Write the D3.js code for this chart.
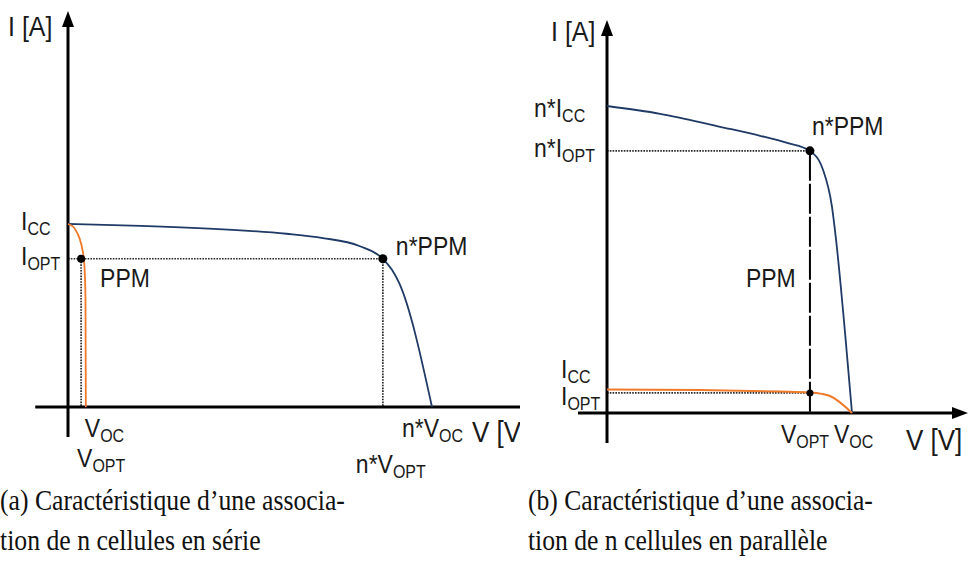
<!DOCTYPE html>
<html><head><meta charset="utf-8">
<script src="https://cdn.jsdelivr.net/npm/d3@7"></script>
<style>body{margin:0;background:#fff}svg{display:block}</style></head>
<body><svg id="c" width="968" height="571"></svg>
<script>
// ---------- Panel (a): n cells in series ----------
const serieV_n = [0, 2, 4, 6, 7, 8, 8.65, 8.9, 9.1, 10];
const serieI_n = [3.0, 2.97, 2.92, 2.84, 2.77, 2.64, 2.43, 2.25, 2.03, 0];
const serieV_1 = [0, 0.11, 0.22, 0.33, 0.41, 0.45, 0.48, 0.49];
const serieI_1 = [3.0, 2.97, 2.89, 2.74, 2.54, 2.33, 1.75, 0];
const serieIcc = 3.0, serieIopt = 2.43, serieVopt = 0.36, serieVoc = 0.49, serieNVopt = 8.65, serieNVoc = 10;

// ---------- Panel (b): n cells in parallel ----------
const paraV_n = [0, 0.13, 0.277, 0.375, 0.441, 0.497, 0.529, 0.551, 0.561, 0.583, 0.6];
const paraI_n = [13.0, 12.67, 12.12, 11.74, 11.44, 11.10, 10.30, 8.73, 7.33, 3.39, 0];
const paraV_1 = [0, 0.228, 0.424, 0.497, 0.526, 0.546, 0.6];
const paraI_1 = [1.0, 0.975, 0.91, 0.87, 0.81, 0.72, 0];
const paraIcc = 1.0, paraIopt = 0.85, paraNIcc = 13, paraNIopt = 11.1, paraVopt = 0.497, paraVoc = 0.6;

// captions
const captionA = ["(a) Caractéristique d\u2019une associa-", "tion de n cellules en série"];
const captionB = ["(b) Caractéristique d\u2019une associa-", "tion de n cellules en parallèle"];

const svg = d3.select("#c");
const BLUE = "#1f3a66", ORANGE = "#ee7a2a", INK = "#1a1a1a";
const FONT = "Liberation Sans, Arial, sans-serif";
const SY = 1.12;

function label(g, x, y, parts, size) {
  size = size || 23;
  const t = g.append("text").attr("transform", `translate(${x},${y}) scale(1,${SY})`)
    .attr("font-family", FONT).attr("font-size", size).attr("fill", INK);
  parts.forEach(p => {
    if (typeof p === "string") t.append("tspan").text(p);
    else t.append("tspan").attr("font-size", p.s).attr("dy", p.dy).text(p.t);
  });
  return t;
}
const sub = (t) => ({t, s: 16, dy: 4.5});

function arrowUp(g, x, y) {
  g.append("path").attr("d", `M${x},${y} L${x-6},${y+16} L${x+6},${y+16} Z`).attr("fill", "#000");
}
function arrowRight(g, x, y) {
  g.append("path").attr("d", `M${x},${y} L${x-16},${y-6} L${x-16},${y+6} Z`).attr("fill", "#000");
}
const DOTC = "#2a2a2a", DOTW = 1.7, DOTD = "1.6,1.2";

// ======== Panel A ========
{
  svg.append("clipPath").attr("id", "clipA").append("rect").attr("x", 0).attr("y", 0).attr("width", 520).attr("height", 485);
  const g = svg.append("g").attr("clip-path", "url(#clipA)");
  const x = d3.scaleLinear().domain([0, 10]).range([68, 432]);
  const y = d3.scaleLinear().domain([0, 3]).range([407, 224]);

  const dot = (x1, y1, x2, y2) => g.append("line").attr("x1", x1).attr("y1", y1).attr("x2", x2).attr("y2", y2)
    .attr("stroke", DOTC).attr("stroke-width", DOTW).attr("stroke-dasharray", DOTD);
  dot(x(0), y(serieIopt), x(serieNVopt), y(serieIopt));
  dot(x(serieNVopt), y(serieIopt), x(serieNVopt), y(0));
  dot(x(serieVopt), y(serieIopt), x(serieVopt), y(0));

  g.append("line").attr("x1", x(-0.9)).attr("x2", 530).attr("y1", y(0)).attr("y2", y(0)).attr("stroke", "#000").attr("stroke-width", 3);
  g.append("line").attr("x1", x(0)).attr("x2", x(0)).attr("y1", y(-0.49)).attr("y2", 22).attr("stroke", "#000").attr("stroke-width", 3);
  arrowUp(g, x(0), 11);

  const lineN = d3.line().x((d, i) => x(serieV_n[i])).y(d => y(d)).curve(d3.curveMonotoneX);
  g.append("path").attr("d", lineN(serieI_n)).attr("fill", "none").attr("stroke", BLUE).attr("stroke-width", 1.8);
  const line1 = d3.line().x((d, i) => x(serieV_1[i])).y(d => y(d)).curve(d3.curveMonotoneY);
  g.append("path").attr("d", line1(serieI_1)).attr("fill", "none").attr("stroke", ORANGE).attr("stroke-width", 1.8);

  g.append("circle").attr("cx", x(serieNVopt)).attr("cy", y(serieIopt)).attr("r", 4.5).attr("fill", "#000");
  g.append("circle").attr("cx", x(serieVopt)).attr("cy", y(serieIopt)).attr("r", 4).attr("fill", "#000");

  label(g, 8, 36, ["I [A]"], 25);
  label(g, 21, y(serieIcc) + 6, ["I", sub("CC")]);
  label(g, 21, y(serieIopt) + 6, ["I", sub("OPT")]);
  label(g, x(serieVopt) + 19, y(serieIopt) + 28, ["PPM"]);
  label(g, x(serieNVopt) + 13, y(serieIopt) - 4, ["n*PPM"]);
  label(g, x(serieVoc) - 1, y(0) + 30, ["V", sub("OC")]);
  label(g, x(serieVopt) - 4, y(0) + 60, ["V", sub("OPT")]);
  label(g, x(serieNVoc) - 30, y(0) + 30, ["n*V", sub("OC")]);
  label(g, 472, y(0) + 35, ["V [V]"], 26);
  label(g, x(serieNVopt) - 27, y(0) + 66, ["n*V", sub("OPT")]);
}

// ======== Panel B ========
{
  const g = svg.append("g");
  const x = d3.scaleLinear().domain([0, 0.6]).range([607, 852]);
  const y = d3.scaleLinear().domain([0, 13]).range([413, 106]);

  const dot = (x1, y1, x2, y2) => g.append("line").attr("x1", x1).attr("y1", y1).attr("x2", x2).attr("y2", y2)
    .attr("stroke", DOTC).attr("stroke-width", DOTW).attr("stroke-dasharray", DOTD);
  dot(x(0), y(paraNIopt), x(paraVopt), y(paraNIopt));
  dot(x(0), y(paraIopt), x(paraVopt), y(paraIopt));
  g.append("line").attr("x1", x(paraVopt)).attr("x2", x(paraVopt)).attr("y1", y(paraNIopt)).attr("y2", y(0))
    .attr("stroke", "#000").attr("stroke-width", 2).attr("stroke-dasharray", "30,3");

  g.append("line").attr("x1", x(-0.071)).attr("x2", 955).attr("y1", y(0)).attr("y2", y(0)).attr("stroke", "#000").attr("stroke-width", 3);
  arrowRight(g, 968, y(0));
  g.append("line").attr("x1", x(0)).attr("x2", x(0)).attr("y1", y(-1.27)).attr("y2", 32).attr("stroke", "#000").attr("stroke-width", 3);
  arrowUp(g, x(0), 20);

  const lineN = d3.line().x((d, i) => x(paraV_n[i])).y(d => y(d)).curve(d3.curveMonotoneX);
  g.append("path").attr("d", lineN(paraI_n)).attr("fill", "none").attr("stroke", BLUE).attr("stroke-width", 1.8);
  const line1 = d3.line().x((d, i) => x(paraV_1[i])).y(d => y(d)).curve(d3.curveMonotoneX);
  g.append("path").attr("d", line1(paraI_1)).attr("fill", "none").attr("stroke", ORANGE).attr("stroke-width", 2);

  g.append("circle").attr("cx", x(paraVopt)).attr("cy", y(paraNIopt)).attr("r", 4.5).attr("fill", "#000");
  g.append("circle").attr("cx", x(paraVopt)).attr("cy", y(paraIopt)).attr("r", 3.5).attr("fill", "#000");

  label(g, 551, 41, ["I [A]"], 25);
  label(g, 534, y(paraNIcc) + 11, ["n*I", sub("CC")]);
  label(g, 534, y(paraNIopt) + 6, ["n*I", sub("OPT")]);
  label(g, x(paraVopt) + 2, y(paraNIopt) - 16, ["n*PPM"]);
  label(g, x(paraVopt) - 64, 287, ["PPM"]);
  label(g, 561, y(paraIcc) - 11, ["I", sub("CC")]);
  label(g, 561, y(paraIopt) + 12, ["I", sub("OPT")]);
  label(g, x(paraVopt) - 29, y(0) + 30, ["V", sub("OPT")]);
  label(g, x(paraVoc) - 18, y(0) + 30, ["V", sub("OC")]);
  label(g, 906, y(0) + 37, ["V [V]"], 26);
}

// ======== Captions ========
function caption(x0, lines, firstLen) {
  const texts = lines.map(s => svg.append("text")
      .attr("font-family", "Liberation Serif, Times New Roman, serif").attr("font-size", 28).attr("fill", "#111")
      .text(s));
  const sx = firstLen / texts[0].node().getComputedTextLength();
  texts.forEach((t, i) => t.attr("transform", `translate(${x0},${510 + i * 40}) scale(${sx},1.08)`));
}
caption(0, captionA, 345);
caption(528, captionB, 345);
</script>
</body></html>
